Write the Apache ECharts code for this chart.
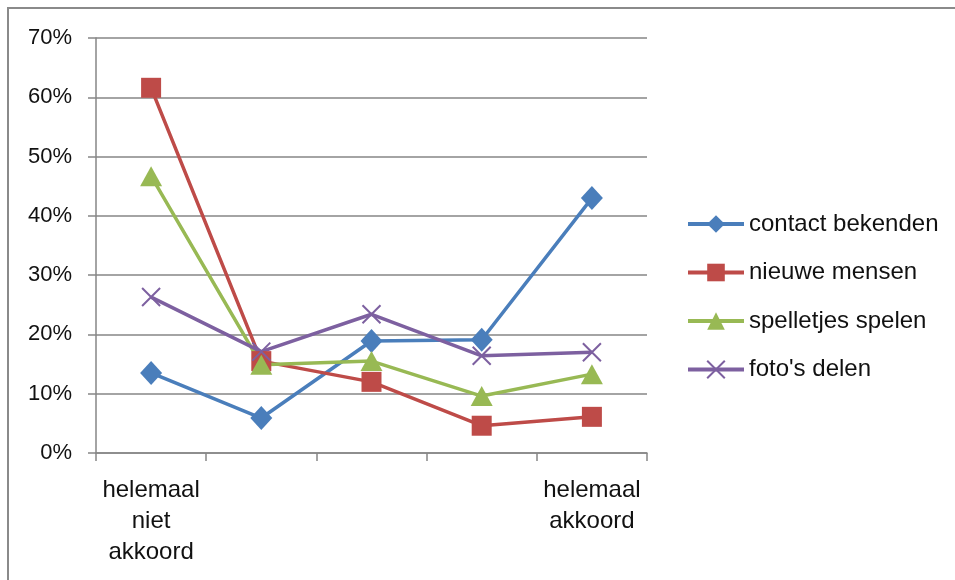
<!DOCTYPE html>
<html>
<head>
<meta charset="utf-8">
<script src="https://cdn.jsdelivr.net/npm/echarts@6/dist/echarts.min.js"></script>
<style>
  html, body { margin: 0; padding: 0; background: #fff; }
  #chart { width: 955px; height: 580px; }
</style>
</head>
<body>
<div id="chart"></div>
<script>
// Five answer categories on a agree/disagree scale
const categories = ['1', '2', '3', '4', '5'];
const categoryLabels = ['helemaal\nniet\nakkoord', '', '', '', 'helemaal\nakkoord'];

// Share of respondents per answer (percent)
const contactBekenden = [13.5, 5.9, 18.9, 19.1, 43.0];
const nieuweMensen = [61.6, 15.5, 12.0, 4.6, 6.1];
const spelletjesSpelen = [46.7, 14.9, 15.5, 9.6, 13.3];
const fotosDelen = [26.3, 17.1, 23.4, 16.4, 17.0];

const seriesNames = ['contact bekenden', 'nieuwe mensen', 'spelletjes spelen', "foto's delen"];

const yTicks = { min: 0, max: 70, interval: 10 };

const FONT = 'Liberation Sans';
const GRID = '#868686';

const crossPath = 'path://M0,0 L10,10 M10,0 L0,10';

function lineSeries(name, data, color, symbol, size, extra) {
  return Object.assign({
    name: name,
    type: 'line',
    data: data,
    symbol: symbol,
    symbolSize: size,
    showAllSymbol: true,
    lineStyle: { color: color, width: 3.5 },
    itemStyle: { color: color, borderColor: color, borderWidth: 0 },
    emphasis: { disabled: true },
    animation: false
  }, extra || {});
}

const chart = echarts.init(document.getElementById('chart'), null, { renderer: 'canvas' });

chart.setOption({
  backgroundColor: '#fff',
  animation: false,
  graphic: [{
    type: 'rect',
    shape: { x: 8, y: 8, width: 980, height: 620 },
    style: { fill: 'none', stroke: '#8a8a8a', lineWidth: 2 },
    silent: true,
    z: -1
  }],
  grid: { left: 96, right: 308, top: 38, bottom: 127, containLabel: false },
  legend: {
    orient: 'vertical',
    left: 681,
    top: 207,
    padding: 5,
    itemWidth: 56,
    itemHeight: 22,
    itemGap: 24.5,
    lineStyle: { width: 4 },
    textStyle: { fontFamily: FONT, fontSize: 24, color: '#111', lineHeight: 24 },
    data: seriesNames
  },
  xAxis: {
    type: 'category',
    data: categories,
    boundaryGap: true,
    axisLine: { lineStyle: { color: GRID, width: 1.5 } },
    axisTick: { show: true, length: 8, alignWithLabel: false, lineStyle: { color: GRID, width: 1.5 } },
    axisLabel: {
      interval: 0,
      margin: 22,
      fontFamily: FONT,
      fontSize: 24,
      lineHeight: 31,
      color: '#111',
      formatter: function (v, i) { return categoryLabels[i]; }
    },
    splitLine: { show: false }
  },
  yAxis: {
    type: 'value',
    min: yTicks.min,
    max: yTicks.max,
    interval: yTicks.interval,
    axisLine: { show: true, lineStyle: { color: GRID, width: 1.5 } },
    axisTick: { show: true, length: 8, lineStyle: { color: GRID, width: 1.5 } },
    axisLabel: {
      margin: 24,
      fontFamily: FONT,
      fontSize: 22,
      color: '#111',
      formatter: '{value}%'
    },
    splitLine: { show: true, lineStyle: { color: GRID, width: 1.5 } }
  },
  series: [
    lineSeries(seriesNames[0], contactBekenden, '#4A7EBB', 'diamond', [22, 24]),
    lineSeries(seriesNames[1], nieuweMensen, '#BE4B48', 'rect', 20),
    lineSeries(seriesNames[2], spelletjesSpelen, '#98B954', 'triangle', [22, 20]),
    lineSeries(seriesNames[3], fotosDelen, '#7D60A0', crossPath, 18, {
      itemStyle: { color: 'none', borderColor: '#7D60A0', borderWidth: 2 }
    })
  ]
});
</script>
</body>
</html>
